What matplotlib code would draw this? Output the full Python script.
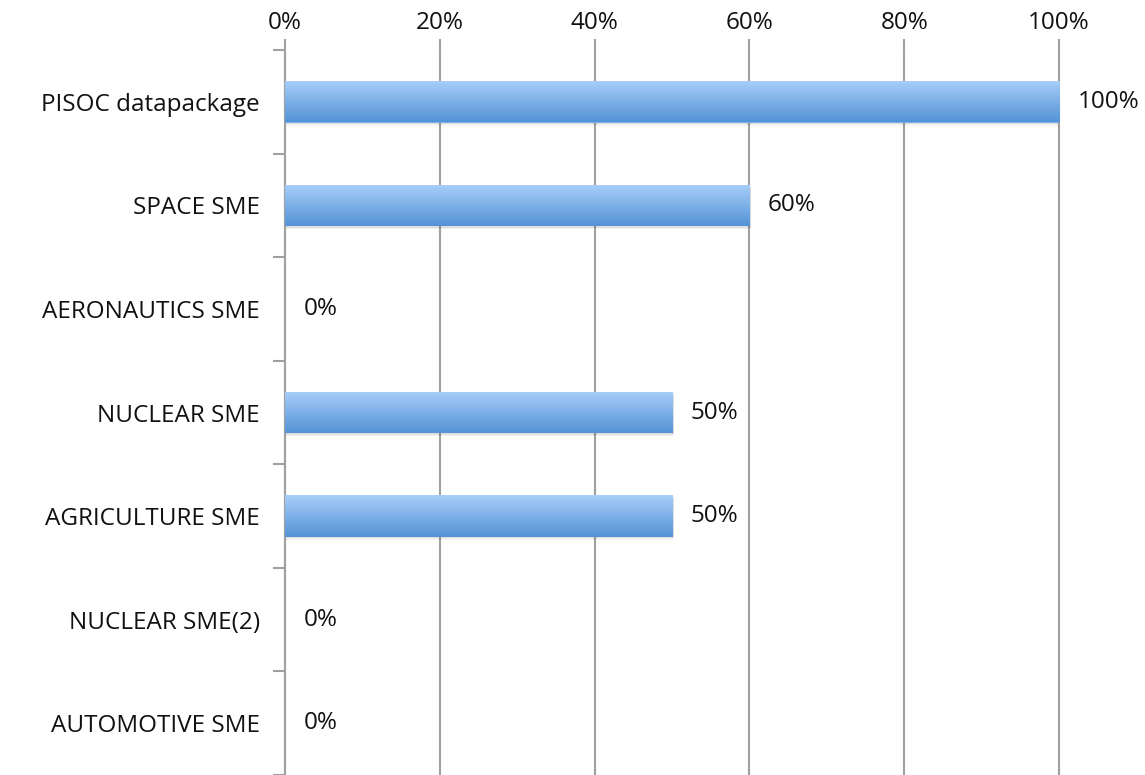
import numpy as np
import matplotlib.pyplot as plt
from matplotlib.colors import LinearSegmentedColormap

categories = ['PISOC datapackage', 'SPACE SME', 'AERONAUTICS SME', 'NUCLEAR SME',
              'AGRICULTURE SME', 'NUCLEAR SME(2)', 'AUTOMOTIVE SME']
values = [100, 60, 0, 50, 50, 0, 0]
xticks = [0, 20, 40, 60, 80, 100]

plt.rcParams['font.family'] = ['Open Sans', 'DejaVu Sans']
fs = 17.5

fig = plt.figure(figsize=(11.45, 7.75), dpi=100)
ax = fig.add_axes([0.2489, 0.0, 0.9249 - 0.2489, 1 - 50 / 775])

y = np.arange(len(categories))
bars = ax.barh(y, values, height=0.4, color='#7aaef0', zorder=3)

# gradient fill on each bar, light on top, darker at the bottom
cmap = LinearSegmentedColormap.from_list('bar', ['#5393d6', '#a9cef9'])
grad = np.linspace(0, 1, 256).reshape(-1, 1)
for b, v in zip(bars, values):
    if v <= 0:
        continue
    x0, yb = b.get_x(), b.get_y()
    w, h = b.get_width(), b.get_height()
    # soft shadow
    for k, a in [(0.015, 0.08), (0.03, 0.05)]:
        ax.barh(yb + h / 2 + k, w + 0.25, height=h, left=x0, color='#000000',
                alpha=a, zorder=2, linewidth=0)
    im = ax.imshow(grad, extent=[x0, x0 + w, yb + h, yb], aspect='auto',
                   cmap=cmap, zorder=4, origin='lower')
    im.set_clip_path(b)

for yi, v in zip(y, values):
    ax.text(v + 2.4, yi, f'{v}%', va='center', ha='left', fontsize=fs, color='#111111')

ax.set_xlim(0, 100)
ax.set_ylim(len(categories) - 0.5, -0.5)
ax.set_yticks(y)
ax.set_yticklabels(categories, fontsize=fs, color='#111111')
ax.set_yticks(np.arange(len(categories) + 1) - 0.5, minor=True)
ax.tick_params(axis='y', which='major', length=0, pad=18)
ax.tick_params(axis='y', which='minor', length=9, width=1.5, color='#a0a0a0')

ax.xaxis.tick_top()
ax.set_xticks(xticks)
ax.set_xticklabels([f'{t}%' for t in xticks], fontsize=fs, color='#111111')
ax.tick_params(axis='x', length=8, width=1.5, color='#a0a0a0', pad=3)
ax.grid(axis='x', color='#a0a0a0', linewidth=1.5, zorder=1)
ax.set_axisbelow(True)
for gl in ax.get_xgridlines():
    gl.set_clip_on(False)

for s in ['top', 'right', 'bottom']:
    ax.spines[s].set_visible(False)
ax.spines['left'].set_color('#a0a0a0')
ax.spines['left'].set_linewidth(1.5)

fig.savefig('out.png', dpi=100)
